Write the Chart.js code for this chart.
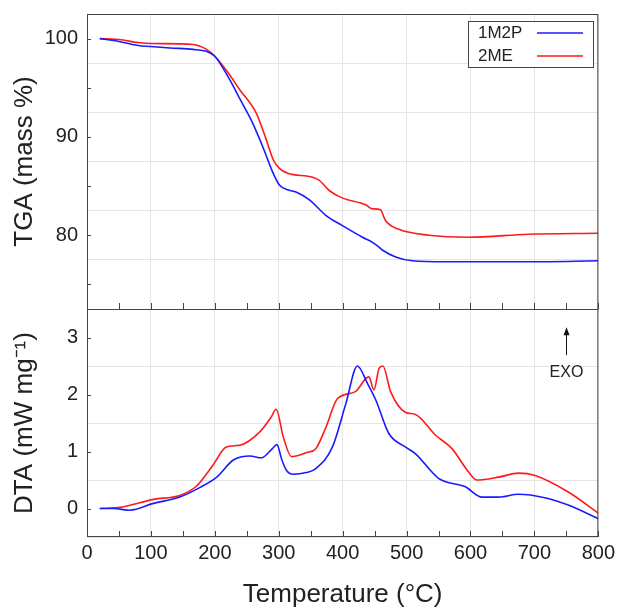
<!DOCTYPE html>
<html>
<head>
<meta charset="utf-8">
<script src="https://cdn.jsdelivr.net/npm/chart.js@4"></script>
<style>
  html, body { margin: 0; padding: 0; background: #fff; }
  #wrap { width: 619px; height: 610px; }
</style>
</head>
<body>
<div id="wrap"><canvas id="chart"></canvas></div>
<script>
// TGA curves (temperature in °C, mass in %)
const tgaTemp1M2P = [20, 50, 80, 100, 130, 166, 187, 200, 220, 239, 257, 275, 290, 301, 315, 327, 348, 374, 399, 431, 446, 455, 462, 483, 509, 561, 691, 800];
const tga1M2P     = [100, 99.7, 99.3, 99.2, 99.05, 98.9, 98.7, 98.2, 96.2, 93.9, 91.7, 89.0, 86.5, 85.1, 84.6, 84.4, 83.6, 82.0, 81.0, 79.8, 79.3, 78.9, 78.5, 77.8, 77.4, 77.3, 77.3, 77.4];

const tgaTemp2ME = [20, 50, 80, 100, 166, 187, 200, 220, 239, 265, 280, 292, 301, 314, 353, 363, 380, 399, 436, 446, 459, 467, 488, 535, 597, 691, 800];
const tga2ME     = [100, 99.9, 99.6, 99.5, 99.4, 98.9, 98.2, 96.6, 94.8, 92.4, 89.8, 87.6, 86.8, 86.3, 85.9, 85.6, 84.5, 83.8, 83.1, 82.7, 82.6, 81.5, 80.6, 80.0, 79.8, 80.1, 80.2];

// DTA curves (temperature in °C, mW/mg)
const dtaTemp1M2P = [20, 42, 67, 104, 145, 177, 203, 229, 255, 273, 290, 297, 305, 312, 322, 343, 358, 384, 405, 423, 439, 452, 472, 498, 514, 550, 592, 618, 644, 675, 716, 753, 800];
const dta1M2P     = [0, 0, -0.03, 0.09, 0.2, 0.37, 0.55, 0.85, 0.92, 0.89, 1.05, 1.12, 0.85, 0.67, 0.6, 0.63, 0.7, 1.08, 1.84, 2.5, 2.19, 1.9, 1.32, 1.08, 0.96, 0.53, 0.38, 0.2, 0.2, 0.25, 0.19, 0.06, -0.18];

const dtaTemp2ME = [20, 52, 104, 145, 171, 197, 218, 239, 270, 288, 296, 307, 320, 343, 358, 374, 392, 420, 436, 441, 449, 457, 463, 475, 498, 514, 545, 571, 597, 610, 644, 675, 701, 753, 800];
const dta2ME     = [0, 0.02, 0.16, 0.23, 0.39, 0.76, 1.08, 1.11, 1.34, 1.6, 1.74, 1.26, 0.91, 0.98, 1.05, 1.43, 1.93, 2.05, 2.28, 2.31, 2.08, 2.46, 2.5, 2.05, 1.69, 1.65, 1.29, 1.05, 0.64, 0.5, 0.55, 0.62, 0.58, 0.29, -0.08];

// axis tick labels
const tgaTicks = [80, 90, 100];
const dtaTicks = [0, 1, 2, 3];

const seriesNames = ['1M2P', '2ME'];
const seriesColors = ['#1a1aff', '#ff1a1a'];

const FONT = '"Liberation Sans", Arial, sans-serif';
const FRAME = '#444';

const toPoints = (xs, ys) => xs.map((x, i) => ({ x, y: ys[i] }));

const line = (label, color, data, axis) => ({
  label,
  data,
  yAxisID: axis,
  borderColor: color,
  borderWidth: 1.6,
  pointRadius: 0,
  cubicInterpolationMode: 'monotone',
  fill: false
});

// frame, divider, inward ticks, y labels, legend box and EXO marker
const decorations = {
  id: 'decorations',
  afterDraw(chart) {
    const { ctx, chartArea: a, scales } = chart;
    const x = scales.x, top = scales.yTGA, bot = scales.yDTA;
    ctx.save();
    ctx.strokeStyle = FRAME;
    ctx.lineWidth = 1;

    // inward ticks every 50 °C and at y grid values
    ctx.beginPath();
    for (let t = 0; t <= 800; t += 50) {
      const px = Math.round(x.getPixelForValue(t)) + 0.5;
      ctx.moveTo(px, top.bottom); ctx.lineTo(px, top.bottom - 6);
      ctx.moveTo(px, bot.bottom); ctx.lineTo(px, bot.bottom - 6);
    }
    for (let v = 75; v <= 100; v += 5) {
      const py = Math.round(top.getPixelForValue(v)) + 0.5;
      ctx.moveTo(a.left, py); ctx.lineTo(a.left + 4, py);
    }
    dtaTicks.forEach((v) => {
      const py = Math.round(bot.getPixelForValue(v)) + 0.5;
      ctx.moveTo(a.left, py); ctx.lineTo(a.left + 4, py);
    });
    ctx.stroke();

    // frame + divider
    ctx.strokeRect(a.left + 0.5, a.top + 0.5, a.right - a.left - 1, a.bottom - a.top - 1);
    ctx.beginPath();
    ctx.moveTo(a.left, Math.round(top.bottom) + 0.5);
    ctx.lineTo(a.right, Math.round(top.bottom) + 0.5);
    ctx.stroke();

    // y tick labels
    ctx.fillStyle = '#222';
    ctx.font = '20px ' + FONT;
    ctx.textAlign = 'right';
    ctx.textBaseline = 'middle';
    tgaTicks.forEach((v) => ctx.fillText(String(v), a.left - 9, top.getPixelForValue(v)));
    dtaTicks.forEach((v) => ctx.fillText(String(v), a.left - 9, bot.getPixelForValue(v)));

    // legend
    const lx = 468, ly = 21, lw = 125, lh = 46;
    ctx.fillStyle = '#fff';
    ctx.fillRect(lx, ly, lw, lh);
    ctx.strokeStyle = FRAME;
    ctx.strokeRect(lx + 0.5, ly + 0.5, lw, lh);
    ctx.font = '17px ' + FONT;
    ctx.textAlign = 'left';
    seriesNames.forEach((name, i) => {
      const ry = ly + 12 + i * 23;
      ctx.fillStyle = '#222';
      ctx.fillText(name, lx + 10, ry);
      ctx.beginPath();
      ctx.strokeStyle = seriesColors[i];
      ctx.lineWidth = 1.6;
      ctx.moveTo(lx + 69, ry); ctx.lineTo(lx + 115, ry);
      ctx.stroke();
    });

    // EXO arrow
    const ex = Math.round(x.getPixelForValue(750)) + 0.5;
    const y1 = bot.getPixelForValue(2.69), y0 = bot.getPixelForValue(3.18);
    ctx.strokeStyle = '#111';
    ctx.fillStyle = '#111';
    ctx.lineWidth = 1;
    ctx.beginPath();
    ctx.moveTo(ex, y1); ctx.lineTo(ex, y0 + 5);
    ctx.stroke();
    ctx.beginPath();
    ctx.moveTo(ex, y0); ctx.lineTo(ex - 3, y0 + 8); ctx.lineTo(ex + 3, y0 + 8);
    ctx.closePath();
    ctx.fill();
    ctx.font = '16px ' + FONT;
    ctx.textAlign = 'center';
    ctx.fillStyle = '#222';
    ctx.fillText('EXO', ex, bot.getPixelForValue(2.39));
    ctx.restore();
  }
};

new Chart(document.getElementById('chart'), {
  type: 'line',
  data: {
    datasets: [
      line(seriesNames[0], seriesColors[0], toPoints(tgaTemp1M2P, tga1M2P), 'yTGA'),
      line(seriesNames[1], seriesColors[1], toPoints(tgaTemp2ME, tga2ME), 'yTGA'),
      line(seriesNames[0], seriesColors[0], toPoints(dtaTemp1M2P, dta1M2P), 'yDTA'),
      line(seriesNames[1], seriesColors[1], toPoints(dtaTemp2ME, dta2ME), 'yDTA')
    ]
  },
  options: {
    responsive: true,
    maintainAspectRatio: false,
    animation: false,
    layout: { padding: { top: 14, right: 19, left: 0, bottom: 0 } },
    plugins: { legend: { display: false }, tooltip: { enabled: false } },
    scales: {
      x: {
        type: 'linear',
        min: 0,
        max: 800,
        ticks: { stepSize: 100, padding: 4, color: '#222', font: { family: FONT, size: 20 } },
        grid: { color: '#e4e4e4', drawTicks: false },
        border: { display: false },
        title: { display: true, text: 'Temperature (°C)', color: '#222', font: { family: FONT, size: 26 }, padding: { top: 0, bottom: 0 } },
        afterFit: (s) => { s.height = 73; }
      },
      yDTA: {
        type: 'linear',
        position: 'left',
        stack: 'panels',
        stackWeight: 228,
        min: -0.5,
        max: 3.5,
        ticks: { stepSize: 1, display: false },
        grid: { color: '#e4e4e4', drawTicks: false },
        border: { display: false },
        title: { display: true, text: 'DTA (mW mg⁻¹)', color: '#222', font: { family: FONT, size: 26 }, padding: { top: 9, bottom: 0 } },
        afterFit: (s) => { s.width = 87; }
      },
      yTGA: {
        type: 'linear',
        position: 'left',
        stack: 'panels',
        stackWeight: 295,
        min: 72.5,
        max: 102.5,
        ticks: { stepSize: 5, display: false },
        grid: { color: '#e4e4e4', drawTicks: false },
        border: { display: false },
        title: { display: true, text: 'TGA (mass %)', color: '#222', font: { family: FONT, size: 26 }, padding: { top: 9, bottom: 0 } },
        afterFit: (s) => { s.width = 87; }
      }
    }
  },
  plugins: [decorations]
});
</script>
</body>
</html>
